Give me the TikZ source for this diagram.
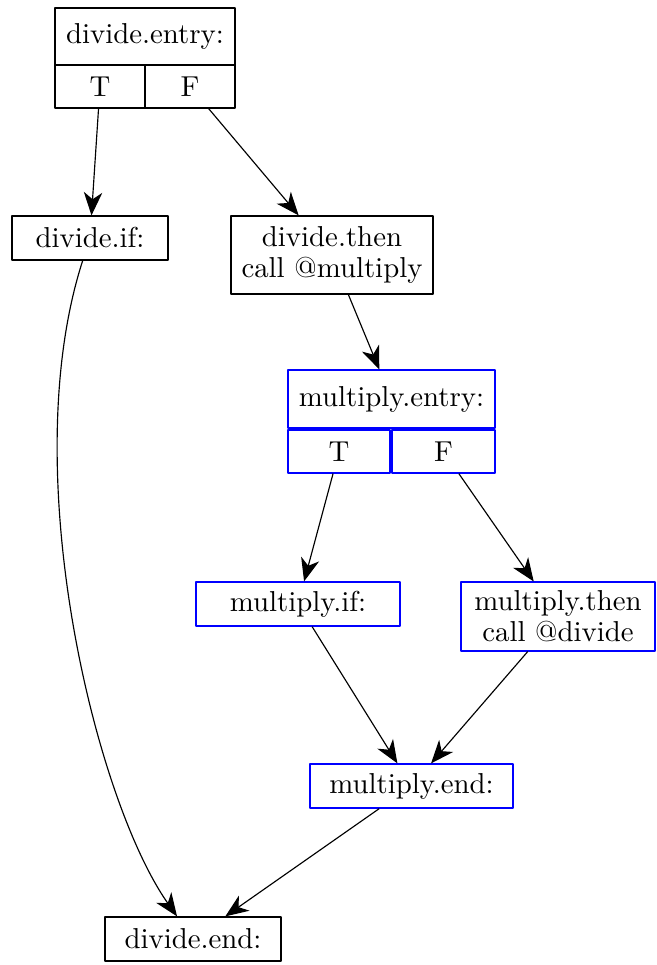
\documentclass[tikz,border=0pt]{standalone}
\usetikzlibrary{arrows.meta}
\begin{document}
\begin{tikzpicture}[x=0.347pt, y=-0.347pt, line join=round,
    blk/.style={draw=black, line width=0.4pt, inner sep=0pt, align=center},
    blu/.style={blk, draw=blue},
    flow/.style={-{Stealth[length=8pt,width=6.4pt,inset=2.4pt]}, line width=0.4pt}]

\useasboundingbox (0,0) rectangle (656,965);

% divide
\node[blk, minimum width=62.5pt, minimum height=19.8pt] (dentry) at (145,36.5) {divide.entry:};
\node[blk, minimum width=31.2pt, minimum height=14.9pt] (dT) at (100,86.5) {T};
\node[blk, minimum width=31.2pt, minimum height=14.9pt] (dF) at (190,86.5) {F};
\node[blk, minimum width=54.1pt, minimum height=15.3pt] (dif) at (90,238) {divide.if:};
\node[blk, minimum width=70.1pt, minimum height=27.1pt] (dthen) at (332,255) {divide.then\\[-1.2pt]call @multiply};
\node[blk, minimum width=61.1pt, minimum height=15.3pt] (dend) at (193,939) {divide.end:};

% multiply
\node[blu, minimum width=71.8pt, minimum height=20.1pt] (mentry) at (391.5,399) {multiply.entry:};
\node[blu, minimum width=35.4pt, minimum height=14.9pt] (mT) at (339,451.5) {T};
\node[blu, minimum width=35.7pt, minimum height=14.9pt] (mF) at (443.5,451.5) {F};
\node[blu, minimum width=70.8pt, minimum height=15.3pt] (mif) at (298,604) {multiply.if:};
\node[blu, minimum width=67.3pt, minimum height=23.9pt] (mthen) at (558,616.5) {multiply.then\\[-1.2pt]call @divide};
\node[blu, minimum width=70.4pt, minimum height=15.3pt] (mend) at (411.5,786) {multiply.end:};

\draw[flow] (dT) -- (dif);
\draw[flow] (dF) -- (dthen);
\draw[flow] (dthen) -- (mentry);
\draw[flow] (mT) -- (mif);
\draw[flow] (mF) -- (mthen);
\draw[flow] (mif) -- (mend);
\draw[flow] (mthen) -- (mend);
\draw[flow] (mend) -- (dend);
\draw[flow] (dif) .. controls (15,470) and (95,800) .. (dend);
\end{tikzpicture}
\end{document}
